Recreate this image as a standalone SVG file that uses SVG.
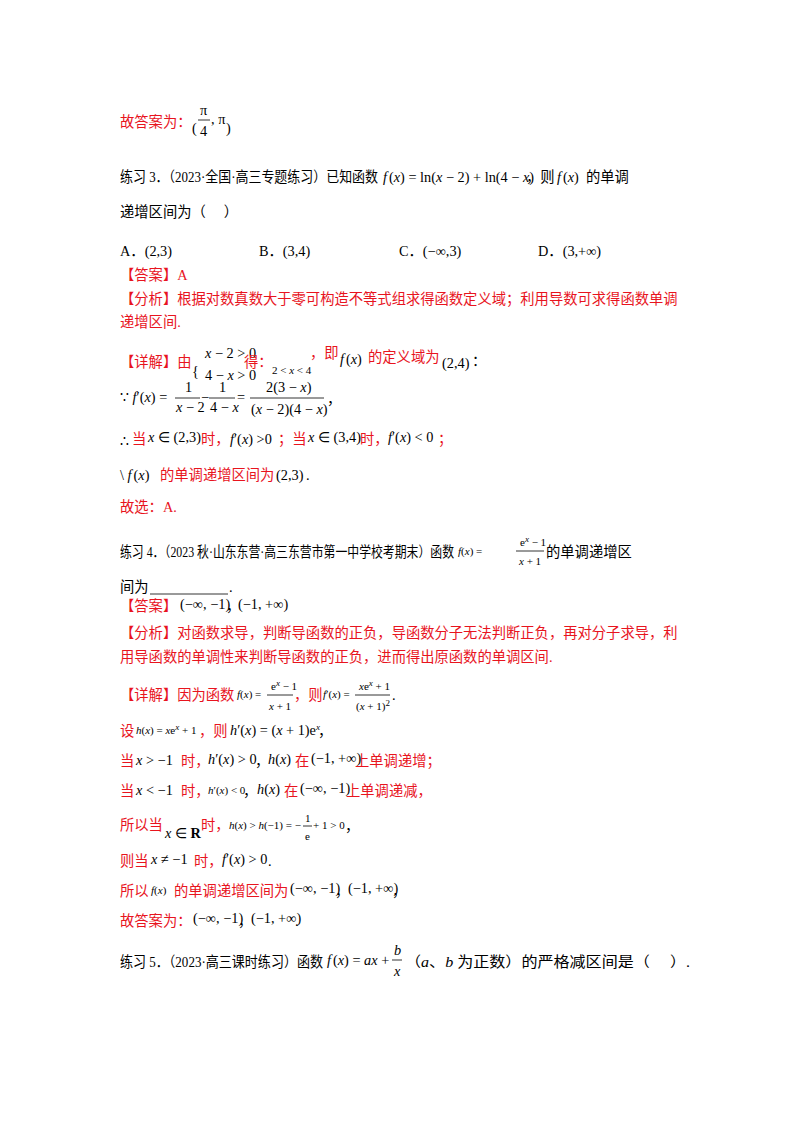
<svg xmlns="http://www.w3.org/2000/svg" width="800" height="1132" viewBox="0 0 800 1132">
<style>
text{font-family:"Liberation Serif","Noto Sans CJK SC",serif;font-size:14.3px;fill:#000}
.r{fill:#e8141e}
.m{font-family:"Liberation Serif",serif;font-style:italic}
.n{font-family:"Liberation Serif",serif;font-style:normal}
.s{font-size:9px}
.t{font-size:11px}
line{stroke:#000;stroke-width:0.8}
</style>
<rect width="800" height="1132" fill="#fff"/>
<!-- 故答案为 -->
<text x="120" y="127" class="r">故答案为：</text>
<text x="192" y="133" class="n" font-size="30">(</text>
<text x="200" y="115" class="n">π</text><line x1="198" y1="120" x2="210" y2="120"/><text x="200" y="136" class="n">4</text>
<text x="211" y="124" class="n">, π</text>
<text x="226" y="133" class="n" font-size="30">)</text>
<!-- 练习3 -->
<text x="120" y="182" textLength="258" lengthAdjust="spacingAndGlyphs">练习 3．（2023·全国·高三专题练习）已知函数</text>
<text x="383" y="182"><tspan class="m">f</tspan><tspan class="n" dx="2">(</tspan><tspan class="m">x</tspan><tspan class="n">) = ln(</tspan><tspan class="m">x</tspan><tspan class="n"> − 2) + ln(4 − </tspan><tspan class="m">x</tspan><tspan class="n">)</tspan></text>
<text x="526" y="182">，则</text>
<text x="557" y="182"><tspan class="m">f</tspan><tspan class="n" dx="2">(</tspan><tspan class="m">x</tspan><tspan class="n">)</tspan></text>
<text x="586" y="182">的单调</text>
<text x="120" y="217">递增区间为（　 ）</text>
<text x="120" y="256">A．<tspan class="n">(2,3)</tspan></text>
<text x="259" y="256">B．<tspan class="n">(3,4)</tspan></text>
<text x="399" y="256">C．<tspan class="n">(−∞,3)</tspan></text>
<text x="538" y="256">D．<tspan class="n">(3,+∞)</tspan></text>
<text x="120" y="280" class="r">【答案】A</text>
<text x="120" y="304" class="r">【分析】根据对数真数大于零可构造不等式组求得函数定义域；利用导数可求得函数单调</text>
<text x="120" y="327" class="r">递增区间.</text>
<!-- 详解 -->
<text x="120" y="367" class="r">【详解】由</text>
<text x="192" y="376" class="n" font-size="34">{</text>
<text x="205" y="358"><tspan class="m">x</tspan><tspan class="n"> − 2 &gt; 0</tspan></text>
<text x="205" y="380"><tspan class="n">4 − </tspan><tspan class="m">x</tspan><tspan class="n"> &gt; 0</tspan></text>
<text x="244" y="367" class="r">得：</text>
<text x="272" y="374" class="t"><tspan class="n">2 &lt; </tspan><tspan class="m">x</tspan><tspan class="n"> &lt; 4</tspan></text>
<text x="310" y="358" class="r">，即</text>
<text x="340" y="364"><tspan class="m">f</tspan><tspan class="n" dx="2">(</tspan><tspan class="m">x</tspan><tspan class="n">)</tspan></text>
<text x="368" y="362" class="r">的定义域为</text>
<text x="442" y="368" class="n">(2,4)</text>
<text x="472" y="366">：</text>
<!-- f' -->
<text x="120" y="402"><tspan class="n">∵ </tspan><tspan class="m">f</tspan><tspan class="n">′(</tspan><tspan class="m">x</tspan><tspan class="n">) =</tspan></text>
<text x="185" y="392" class="n">1</text><line x1="175" y1="398" x2="200" y2="398"/>
<text x="176" y="412"><tspan class="m">x</tspan><tspan class="n"> − 2</tspan></text>
<text x="201" y="402" class="n">−</text>
<text x="219" y="392" class="n">1</text><line x1="209" y1="398" x2="235" y2="398"/>
<text x="210" y="412"><tspan class="n">4 − </tspan><tspan class="m">x</tspan></text>
<text x="237" y="402" class="n">=</text>
<text x="266" y="392"><tspan class="n">2(3 − </tspan><tspan class="m">x</tspan><tspan class="n">)</tspan></text>
<line x1="250" y1="398" x2="324" y2="398"/>
<text x="251" y="414"><tspan class="n">(</tspan><tspan class="m">x</tspan><tspan class="n"> − 2)(4 − </tspan><tspan class="m">x</tspan><tspan class="n">)</tspan></text>
<text x="327" y="404">，</text>
<!-- ∴ line -->
<text x="120" y="446" class="n">∴</text>
<text x="132" y="444" class="r">当</text>
<text x="148" y="442"><tspan class="m">x</tspan><tspan class="n"> ∈ (2,3)</tspan></text>
<text x="201" y="444" class="r">时，</text>
<text x="230" y="444"><tspan class="m">f</tspan><tspan class="n">′(</tspan><tspan class="m">x</tspan><tspan class="n">)  &gt;0</tspan></text>
<text x="278" y="444" class="r">；当</text>
<text x="308" y="442"><tspan class="m">x</tspan><tspan class="n"> ∈ (3,4)</tspan></text>
<text x="360" y="444" class="r">时，</text>
<text x="388" y="442"><tspan class="m">f</tspan><tspan class="n">′(</tspan><tspan class="m">x</tspan><tspan class="n">) &lt; 0</tspan></text>
<text x="438" y="444" class="r">；</text>
<!-- \ line -->
<text x="120" y="480"><tspan class="n">\ </tspan><tspan class="m">f</tspan><tspan class="n" dx="2">(</tspan><tspan class="m">x</tspan><tspan class="n">)</tspan></text>
<text x="160" y="480" class="r">的单调递增区间为</text>
<text x="276" y="480" class="n">(2,3)</text>
<text x="306" y="480">.</text>
<text x="120" y="512" class="r">故选：A.</text>
<!-- 练习4 -->
<text x="120" y="557" textLength="334" lengthAdjust="spacingAndGlyphs">练习 4．（2023 秋·山东东营·高三东营市第一中学校考期末）函数</text>
<text x="458" y="555" class="t"><tspan class="m">f</tspan><tspan class="n">(</tspan><tspan class="m">x</tspan><tspan class="n">) =</tspan></text>
<text x="520" y="546" class="t"><tspan class="n">e</tspan><tspan class="m s" dy="-4">x</tspan><tspan class="n" dy="4"> − 1</tspan></text>
<line x1="516" y1="551" x2="544" y2="551"/>
<text x="519" y="565" class="t"><tspan class="m">x</tspan><tspan class="n"> + 1</tspan></text>
<text x="546" y="557">的单调递增区</text>
<text x="120" y="592">间为</text>
<line x1="150" y1="594" x2="228" y2="594"/>
<text x="229" y="592">.</text>
<text x="120" y="611" class="r">【答案】</text>
<text x="180" y="609" class="n">(−∞, −1)</text>
<text x="226" y="611">，</text>
<text x="238" y="609" class="n">(−1, +∞)</text>
<text x="120" y="638" class="r">【分析】对函数求导，判断导函数的正负，导函数分子无法判断正负，再对分子求导，利</text>
<text x="120" y="662" class="r">用导函数的单调性来判断导函数的正负，进而得出原函数的单调区间.</text>
<!-- 详解 -->
<text x="120" y="700" class="r">【详解】因为函数</text>
<text x="237" y="698" class="t"><tspan class="m">f</tspan><tspan class="n">(</tspan><tspan class="m">x</tspan><tspan class="n">) =</tspan></text>
<text x="271" y="690" class="t"><tspan class="n">e</tspan><tspan class="m s" dy="-4">x</tspan><tspan class="n" dy="4"> − 1</tspan></text>
<line x1="267" y1="695" x2="293" y2="695"/>
<text x="269" y="710" class="t"><tspan class="m">x</tspan><tspan class="n"> + 1</tspan></text>
<text x="294" y="700" class="r">，则</text>
<text x="323" y="698" class="t"><tspan class="m">f</tspan><tspan class="n">′(</tspan><tspan class="m">x</tspan><tspan class="n">) =</tspan></text>
<text x="359" y="690" class="t"><tspan class="m">x</tspan><tspan class="n">e</tspan><tspan class="m s" dy="-4">x</tspan><tspan class="n" dy="4"> + 1</tspan></text>
<line x1="355" y1="695" x2="390" y2="695"/>
<text x="356" y="710" class="t"><tspan class="n">(</tspan><tspan class="m">x</tspan><tspan class="n"> + 1)</tspan><tspan class="n s" dy="-4">2</tspan></text>
<text x="392" y="700">.</text>
<!-- 设 -->
<text x="120" y="736" class="r">设</text>
<text x="136" y="734" class="t"><tspan class="m">h</tspan><tspan class="n">(</tspan><tspan class="m">x</tspan><tspan class="n">) = </tspan><tspan class="m">x</tspan><tspan class="n">e</tspan><tspan class="m s" dy="-4">x</tspan><tspan class="n" dy="4"> + 1</tspan></text>
<text x="199" y="736" class="r">，则</text>
<text x="230" y="735"><tspan class="m">h</tspan><tspan class="n">′(</tspan><tspan class="m">x</tspan><tspan class="n">) = (</tspan><tspan class="m">x</tspan><tspan class="n"> + 1)e</tspan><tspan class="m s" dy="-5">x</tspan></text>
<text x="318" y="736">，</text>
<text x="120" y="766" class="r">当</text>
<text x="136" y="765"><tspan class="m">x</tspan><tspan class="n"> &gt; −1</tspan></text>
<text x="181" y="766" class="r">时，</text>
<text x="208" y="764"><tspan class="m">h</tspan><tspan class="n">′(</tspan><tspan class="m">x</tspan><tspan class="n">) &gt; 0</tspan></text>
<text x="255" y="766">，</text>
<text x="268" y="764"><tspan class="m">h</tspan><tspan class="n">(</tspan><tspan class="m">x</tspan><tspan class="n">)</tspan></text>
<text x="295" y="766" class="r">在</text>
<text x="311" y="763" class="n">(−1, +∞)</text>
<text x="355" y="766" class="r">上单调递增；</text>
<text x="120" y="796" class="r">当</text>
<text x="136" y="795"><tspan class="m">x</tspan><tspan class="n"> &lt; −1</tspan></text>
<text x="181" y="796" class="r">时，</text>
<text x="208" y="794" class="t"><tspan class="m">h</tspan><tspan class="n">′(</tspan><tspan class="m">x</tspan><tspan class="n">) &lt; 0</tspan></text>
<text x="243" y="796">，</text>
<text x="257" y="794"><tspan class="m">h</tspan><tspan class="n">(</tspan><tspan class="m">x</tspan><tspan class="n">)</tspan></text>
<text x="284" y="796" class="r">在</text>
<text x="300" y="793" class="n">(−∞, −1)</text>
<text x="346" y="796" class="r">上单调递减，</text>
<text x="120" y="830" class="r">所以当</text>
<text x="165" y="838"><tspan class="m">x</tspan><tspan class="n"> ∈ </tspan><tspan class="n" font-weight="bold">R</tspan></text>
<text x="201" y="830" class="r">时，</text>
<text x="229" y="829" class="t"><tspan class="m">h</tspan><tspan class="n">(</tspan><tspan class="m">x</tspan><tspan class="n">) &gt; </tspan><tspan class="m">h</tspan><tspan class="n">(−1) = −</tspan></text>
<text x="305" y="822" class="t n">1</text><line x1="303" y1="826" x2="312" y2="826"/>
<text x="305" y="840" class="t n">e</text>
<text x="313" y="829" class="t n">+ 1 &gt; 0</text>
<text x="345" y="831">，</text>
<text x="120" y="866" class="r">则当</text>
<text x="151" y="864"><tspan class="m">x</tspan><tspan class="n"> ≠ −1</tspan></text>
<text x="194" y="866" class="r">时，</text>
<text x="222" y="864"><tspan class="m">f</tspan><tspan class="n">′(</tspan><tspan class="m">x</tspan><tspan class="n">) &gt; 0</tspan></text>
<text x="268" y="866">.</text>
<text x="120" y="896" class="r">所以</text>
<text x="151" y="894" class="t"><tspan class="m">f</tspan><tspan class="n">(</tspan><tspan class="m">x</tspan><tspan class="n">)</tspan></text>
<text x="174" y="896" class="r">的单调递增区间为</text>
<text x="290" y="893" class="n">(−∞, −1)</text>
<text x="335" y="896">，</text>
<text x="348" y="893" class="n">(−1, +∞)</text>
<text x="392" y="896">，</text>
<text x="120" y="926" class="r">故答案为：</text>
<text x="193" y="923" class="n">(−∞, −1)</text>
<text x="238" y="926">，</text>
<text x="251" y="923" class="n">(−1, +∞)</text>
<text x="295" y="926">.</text>
<!-- 练习5 -->
<text x="120" y="967" textLength="203" lengthAdjust="spacingAndGlyphs">练习 5．（2023·高三课时练习）函数</text>
<text x="327" y="965"><tspan class="m">f</tspan><tspan class="n" dx="2">(</tspan><tspan class="m">x</tspan><tspan class="n">) = </tspan><tspan class="m">ax</tspan><tspan class="n"> +</tspan></text>
<text x="394" y="955" class="m">b</text><line x1="392" y1="960" x2="402" y2="960"/>
<text x="394" y="976" class="m">x</text>
<text x="405" y="967" textLength="285" lengthAdjust="spacingAndGlyphs">（<tspan class="m">a</tspan>、<tspan class="m">b</tspan> 为正数）的严格减区间是（　 ）.</text>
</svg>
